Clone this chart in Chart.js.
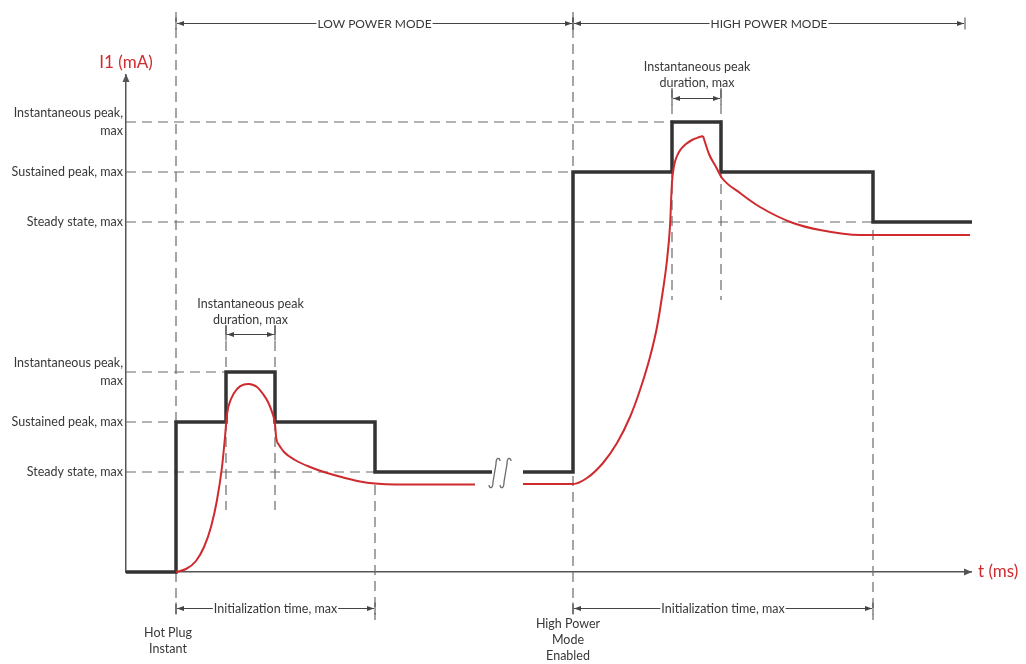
<!DOCTYPE html>
<html>
<head>
<meta charset="utf-8">
<script src="https://cdn.jsdelivr.net/npm/chart.js@4.4.1/dist/chart.umd.min.js"></script>
<style>
  html,body{margin:0;padding:0;background:#fff;}
  canvas{display:block;}
</style>
</head>
<body>
<canvas id="c" width="1026" height="664"></canvas>
<script>
// ---------- data (time in arbitrary ms units, current in arbitrary mA units) ----------
const levelTicks = [10, 15, 20, 35, 40, 45];
const levelTickLabels = ['Steady state, max', 'Sustained peak, max', ['Instantaneous peak,', 'max'],
                         'Steady state, max', 'Sustained peak, max', ['Instantaneous peak,', 'max']];

// module current limit (black step)
const limitLowT  = [0, 5, 5, 10, 10, 14.9, 14.9, 24.9, 24.9, 36.6];
const limitLowI  = [0, 0, 15, 15, 20, 20, 15, 15, 10, 10];
const limitHighT = [39.7, 44.7, 44.7, 54.6, 54.6, 59.5, 59.5, 74.7, 74.7, 84.6];
const limitHighI = [10, 10, 40, 40, 45, 45, 40, 40, 35, 35];

// actual current (red)
const curLowRiseT  = [5, 6, 7, 7.8, 8.5, 9.1, 9.6, 9.9, 10.1, 10.5, 11.1, 11.8, 12.4];
const curLowRiseI  = [0, 0.3, 1.1, 2.5, 4.5, 7.2, 10.5, 13.5, 15.8, 17.3, 18.3, 18.75, 18.8];
const curLowFallT  = [12.4, 13.1, 13.7, 14.2, 14.6, 14.9, 15.0, 15.1];
const curLowFallI  = [18.8, 18.5, 17.8, 17.0, 16.0, 14.8, 13.6, 13.0];
const curLowDecayT = [15.1, 15.8, 16.9, 18.4, 20.1, 21.9, 23.4, 24.9, 27, 34.9];
const curLowDecayI = [13.0, 12.0, 11.2, 10.5, 9.9, 9.4, 9.05, 8.85, 8.75, 8.75];
const curHighRiseT = [39.7, 44.7, 46.1, 47.7, 49.1, 50.4, 51.4, 52.4, 53.1, 53.7, 54.1, 54.4, 54.6, 54.8, 55.1, 55.5, 56.0, 56.6, 57.2, 57.7];
const curHighRiseI = [8.8, 8.8, 9.4, 10.9, 12.9, 15.5, 18.2, 21.5, 24.5, 28.2, 31.2, 34.6, 39.0, 40.6, 41.6, 42.3, 42.8, 43.2, 43.45, 43.6];
const curHighDecayT = [57.7, 58.3, 59.0, 59.6, 61.4, 63.4, 66.7, 69.4, 73.4, 84.4];
const curHighDecayI = [43.6, 41.8, 40.5, 39.4, 37.9, 36.5, 34.9, 34.2, 33.7, 33.7];

// guide lines
const guideLevels    = [45, 40, 35, 20, 15, 10];
const guideLevelEnds = [54.6, 44.7, 74.7, 10, 5, 24.9];
const guideTimes     = [5, 10, 14.9, 24.9, 44.7, 54.6, 59.5, 74.7];
const guideTimeTop   = [56, 24.7, 24.7, 8.7, 56, 48.4, 48.4, 34.2];
const guideTimeBot   = [-4.8, 6.2, 6.2, -4.8, -4.8, 27.2, 27.2, -4.8];

// annotation texts
const modeLabels = ['LOW POWER MODE', 'HIGH POWER MODE'];
const initLabel = 'Initialization time, max';
const durationLabel = ['Instantaneous peak', 'duration, max'];
const hotPlugLabel = ['Hot Plug', 'Instant'];
const highEnableLabel = ['High Power', 'Mode', 'Enabled'];
const yTitle = 'I1 (mA)';
const xTitle = 't (ms)';

// ---------- helpers ----------
const pts = (T, I) => T.map((t, i) => ({x: t, y: I[i]}));
const RED = '#cf2a2e', BLACK = '#333333', GUIDE = '#6a6a6a', TXT = '#383838';
const FONT = 'Lato, "Open Sans", sans-serif';

const datasets = [];
function redSeg(T, I) {
  datasets.push({data: pts(T, I), borderColor: RED, borderWidth: 2, pointRadius: 0,
    cubicInterpolationMode: 'monotone', fill: false, clip: false, order: 1});
}
redSeg(curLowRiseT, curLowRiseI);
redSeg(curLowFallT, curLowFallI);
redSeg(curLowDecayT, curLowDecayI);
redSeg(curHighRiseT, curHighRiseI);
redSeg(curHighDecayT, curHighDecayI);
[[limitLowT, limitLowI], [limitHighT, limitHighI]].forEach(([T, I]) => {
  datasets.push({data: pts(T, I), borderColor: BLACK, borderWidth: 3.5, pointRadius: 0,
    tension: 0, fill: false, clip: false, order: 2, borderJoinStyle: 'miter'});
});
guideLevels.forEach((L, i) => {
  datasets.push({data: [{x: 0, y: L}, {x: guideLevelEnds[i], y: L}], borderColor: GUIDE,
    borderWidth: 1.2, borderDash: [10, 6], pointRadius: 0, clip: false, order: 3});
});
guideTimes.forEach((t, i) => {
  datasets.push({data: [{x: t, y: guideTimeTop[i]}, {x: t, y: guideTimeBot[i]}], borderColor: GUIDE,
    borderWidth: 1.2, borderDash: [10, 6], pointRadius: 0, clip: false, order: 3});
});

// ---------- annotation plugin ----------
function head(ctx, x, y, dir, len, hw) {
  ctx.beginPath();
  if (dir === 'left') { ctx.moveTo(x, y); ctx.lineTo(x + len, y - hw); ctx.lineTo(x + len, y + hw); }
  else if (dir === 'right') { ctx.moveTo(x, y); ctx.lineTo(x - len, y - hw); ctx.lineTo(x - len, y + hw); }
  else { ctx.moveTo(x, y); ctx.lineTo(x - hw, y + len); ctx.lineTo(x + hw, y + len); }
  ctx.closePath(); ctx.fill();
}

const annot = {
  id: 'annot',
  afterDraw(chart) {
    const ctx = chart.ctx, xs = chart.scales.x, ys = chart.scales.y;
    const X = v => xs.getPixelForValue(v), Y = v => ys.getPixelForValue(v);
    ctx.save();
    // axis arrow heads
    ctx.fillStyle = '#555';
    head(ctx, X(0), chart.chartArea.top - 1, 'up', 8, 3.5);
    head(ctx, chart.chartArea.right + 1, Y(0), 'right', 8, 3.5);

    // dimension arrows
    const dims = [
      {x1: 5, x2: 44.7, y: 54.9, text: modeLabels[0], caps: true},
      {x1: 44.7, x2: 83.9, y: 54.9, text: modeLabels[1], caps: true},
      {x1: 5, x2: 24.9, y: -3.6, text: initLabel},
      {x1: 44.7, x2: 74.7, y: -3.6, text: initLabel},
      {x1: 10, x2: 14.9, y: 23.8, text: null, bracket: true},
      {x1: 54.6, x2: 59.5, y: 47.4, text: null, bracket: true}
    ];
    dims.forEach(d => {
      const a = X(d.x1) + 1, b = X(d.x2) - 1, y = Math.round(Y(d.y)) + 0.5;
      ctx.strokeStyle = '#444'; ctx.fillStyle = '#444'; ctx.lineWidth = 1;
      ctx.beginPath(); ctx.moveTo(a, y); ctx.lineTo(b, y); ctx.stroke();
      head(ctx, a, y, 'left', 7, 2.5);
      head(ctx, b, y, 'right', 7, 2.5);
      ctx.beginPath();
      const up = d.bracket ? 9 : 6;
      ctx.moveTo(X(d.x1), y - up); ctx.lineTo(X(d.x1), y + 6);
      ctx.moveTo(X(d.x2), y - up); ctx.lineTo(X(d.x2), y + 6);
      ctx.stroke();
      if (d.text) {
        ctx.font = (d.caps ? '12px ' : '12.5px ') + FONT;
        const w = ctx.measureText(d.text).width;
        const cx = (X(d.x1) + X(d.x2)) / 2;
        ctx.fillStyle = '#fff';
        ctx.fillRect(cx - w / 2 - 1, y - 8, w + 2, 16);
        ctx.fillStyle = TXT; ctx.textAlign = 'center'; ctx.textBaseline = 'middle';
        ctx.fillText(d.text, cx, y + 0.5);
      }
    });

    // multi-line text labels
    const blocks = [
      {lines: durationLabel, x: 12.45, y: 26.8},
      {lines: durationLabel, x: 57.1, y: 50.5},
      {lines: hotPlugLabel, x: 4.2, y: -6.1},
      {lines: highEnableLabel, x: 44.2, y: -5.2}
    ];
    ctx.font = '12.5px ' + FONT; ctx.fillStyle = TXT; ctx.textAlign = 'center'; ctx.textBaseline = 'middle';
    blocks.forEach(bk => {
      bk.lines.forEach((s, i) => ctx.fillText(s, X(bk.x), Y(bk.y) + i * 16));
    });

    // axis titles
    ctx.fillStyle = RED; ctx.font = '17px ' + FONT;
    ctx.textAlign = 'center'; ctx.fillText(yTitle, X(0), Y(50.9));
    ctx.textAlign = 'left'; ctx.fillText(xTitle, X(85.2), Y(0));

    // break symbol
    ctx.strokeStyle = '#6a6a6a'; ctx.lineWidth = 1.3;
    const yb = Y(10) + 16, yt = Y(10) - 14;
    [36.85, 37.95].forEach(t => {
      const cx = X(t);
      ctx.beginPath();
      ctx.moveTo(cx - 5.5, yb - 3);
      ctx.bezierCurveTo(cx - 5, yb + 1, cx - 1.5, yb + 1, cx - 1.5, yb - 6);
      ctx.lineTo(cx + 1.5, yt + 6);
      ctx.bezierCurveTo(cx + 1.5, yt - 1, cx + 5, yt - 1, cx + 5.5, yt + 3);
      ctx.stroke();
    });
    ctx.restore();
  }
};

new Chart(document.getElementById('c'), {
  type: 'line',
  data: {datasets},
  options: {
    responsive: false,
    animation: false,
    devicePixelRatio: 1,
    layout: {padding: {top: 75, right: 55, left: 0, bottom: 0}},
    plugins: {legend: {display: false}, tooltip: {enabled: false}},
    events: [],
    scales: {
      x: {
        type: 'linear', min: 0, max: 84.5,
        grid: {display: false, drawTicks: false},
        border: {display: true, color: '#555', width: 1.5},
        ticks: {display: false},
        afterFit(s) { s.height = 92; }
      },
      y: {
        type: 'linear', min: 0, max: 49.7,
        grid: {display: false, drawTicks: false},
        border: {display: true, color: '#555', width: 1.5},
        afterBuildTicks(s) { s.ticks = levelTicks.map(v => ({value: v})); },
        ticks: {
          autoSkip: false, padding: 3, color: TXT,
          font: {family: FONT, size: 12.5, lineHeight: 1.45},
          callback(v) { const i = levelTicks.indexOf(v); return i >= 0 ? levelTickLabels[i] : ''; }
        },
        afterFit(s) { s.width = 126; }
      }
    }
  },
  plugins: [annot]
});
</script>
</body>
</html>
